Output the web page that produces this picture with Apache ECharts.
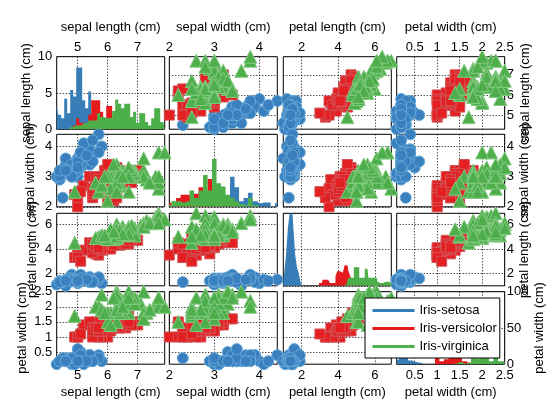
<!DOCTYPE html>
<html>
<head>
<meta charset="utf-8">
<script src="https://cdn.jsdelivr.net/npm/echarts@6/dist/echarts.min.js"></script>
<style>
    html, body { margin: 0; padding: 0; background: #fff; }
    #main { width: 560px; height: 420px; }
</style>
</head>
<body>
<div id="main"></div>
<script>
// iris measurements, one array per species and variable
var setosaSepalLength = [5.1,4.9,4.7,4.6,5.0,5.4,4.6,5.0,4.4,4.9,5.4,4.8,4.8,4.3,5.8,5.7,5.4,5.1,5.7,5.1,5.4,5.1,4.6,5.1,4.8,5.0,5.0,5.2,5.2,4.7,4.8,5.4,5.2,5.5,4.9,5.0,5.5,4.9,4.4,5.1,5.0,4.5,4.4,5.0,5.1,4.8,5.1,4.6,5.3,5.0];
var setosaSepalWidth  = [3.5,3.0,3.2,3.1,3.6,3.9,3.4,3.4,2.9,3.1,3.7,3.4,3.0,3.0,4.0,4.4,3.9,3.5,3.8,3.8,3.4,3.7,3.6,3.3,3.4,3.0,3.4,3.5,3.4,3.2,3.1,3.4,4.1,4.2,3.1,3.2,3.5,3.1,3.0,3.4,3.5,2.3,3.2,3.5,3.8,3.0,3.8,3.2,3.7,3.3];
var setosaPetalLength = [1.4,1.4,1.3,1.5,1.4,1.7,1.4,1.5,1.4,1.5,1.5,1.6,1.4,1.1,1.2,1.5,1.3,1.4,1.7,1.5,1.7,1.5,1.0,1.7,1.9,1.6,1.6,1.5,1.4,1.6,1.6,1.5,1.5,1.4,1.5,1.2,1.3,1.5,1.3,1.5,1.3,1.3,1.3,1.6,1.9,1.4,1.6,1.4,1.5,1.4];
var setosaPetalWidth  = [0.2,0.2,0.2,0.2,0.2,0.4,0.3,0.2,0.2,0.1,0.2,0.2,0.1,0.1,0.2,0.4,0.4,0.3,0.3,0.3,0.2,0.4,0.2,0.5,0.2,0.2,0.4,0.2,0.2,0.2,0.2,0.4,0.1,0.2,0.1,0.2,0.2,0.1,0.2,0.2,0.3,0.3,0.2,0.6,0.4,0.3,0.2,0.2,0.2,0.2];

var versicolorSepalLength = [7.0,6.4,6.9,5.5,6.5,5.7,6.3,4.9,6.6,5.2,5.0,5.9,6.0,6.1,5.6,6.7,5.6,5.8,6.2,5.6,5.9,6.1,6.3,6.1,6.4,6.6,6.8,6.7,6.0,5.7,5.5,5.5,5.8,6.0,5.4,6.0,6.7,6.3,5.6,5.5,5.5,6.1,5.8,5.0,5.6,5.7,5.7,6.2,5.1,5.7];
var versicolorSepalWidth  = [3.2,3.2,3.1,2.3,2.8,2.8,3.3,2.4,2.9,2.7,2.0,3.0,2.2,2.9,2.9,3.1,3.0,2.7,2.2,2.5,3.2,2.8,2.5,2.8,2.9,3.0,2.8,3.0,2.9,2.6,2.4,2.4,2.7,2.7,3.0,3.4,3.1,2.3,3.0,2.5,2.6,3.0,2.6,2.3,2.7,3.0,2.9,2.9,2.5,2.8];
var versicolorPetalLength = [4.7,4.5,4.9,4.0,4.6,4.5,4.7,3.3,4.6,3.9,3.5,4.2,4.0,4.7,3.6,4.4,4.5,4.1,4.5,3.9,4.8,4.0,4.9,4.7,4.3,4.4,4.8,5.0,4.5,3.5,3.8,3.7,3.9,5.1,4.5,4.5,4.7,4.4,4.1,4.0,4.4,4.6,4.0,3.3,4.2,4.2,4.2,4.3,3.0,4.1];
var versicolorPetalWidth  = [1.4,1.5,1.5,1.3,1.5,1.3,1.6,1.0,1.3,1.4,1.0,1.5,1.0,1.4,1.3,1.4,1.5,1.0,1.5,1.1,1.8,1.3,1.5,1.2,1.3,1.4,1.4,1.7,1.5,1.0,1.1,1.0,1.2,1.6,1.5,1.6,1.5,1.3,1.3,1.3,1.2,1.4,1.2,1.0,1.3,1.2,1.3,1.3,1.1,1.3];

var virginicaSepalLength = [6.3,5.8,7.1,6.3,6.5,7.6,4.9,7.3,6.7,7.2,6.5,6.4,6.8,5.7,5.8,6.4,6.5,7.7,7.7,6.0,6.9,5.6,7.7,6.3,6.7,7.2,6.2,6.1,6.4,7.2,7.4,7.9,6.4,6.3,6.1,7.7,6.3,6.4,6.0,6.9,6.7,6.9,5.8,6.8,6.7,6.7,6.3,6.5,6.2,5.9];
var virginicaSepalWidth  = [3.3,2.7,3.0,2.9,3.0,3.0,2.5,2.9,2.5,3.6,3.2,2.7,3.0,2.5,2.8,3.2,3.0,3.8,2.6,2.2,3.2,2.8,2.8,2.7,3.3,3.2,2.8,3.0,2.8,3.0,2.8,3.8,2.8,2.8,2.6,3.0,3.4,3.1,3.0,3.1,3.1,3.1,2.7,3.2,3.3,3.0,2.5,3.0,3.4,3.0];
var virginicaPetalLength = [6.0,5.1,5.9,5.6,5.8,6.6,4.5,6.3,5.8,6.1,5.1,5.3,5.5,5.0,5.1,5.3,5.5,6.7,6.9,5.0,5.7,4.9,6.7,4.9,5.7,6.0,4.8,4.9,5.6,5.8,6.1,6.4,5.6,5.1,5.6,6.1,5.6,5.5,4.8,5.4,5.6,5.1,5.1,5.9,5.7,5.2,5.0,5.2,5.4,5.1];
var virginicaPetalWidth  = [2.5,1.9,2.1,1.8,2.2,2.1,1.7,1.8,1.8,2.5,2.0,1.9,2.1,2.0,2.4,2.3,1.8,2.2,2.3,1.5,2.3,2.0,2.0,1.8,2.1,1.8,1.8,1.8,2.1,1.6,1.9,2.0,2.2,1.5,1.4,2.3,2.4,1.8,1.8,2.1,2.4,2.3,1.9,2.3,2.5,2.3,1.9,2.0,2.3,1.8];

// histogram bins (bin centres) and bar heights
var sepalLengthBins = [4.3,4.4,4.5,4.6,4.7,4.8,4.9,5.0,5.1,5.2,5.3,5.4,5.5,5.6,5.7,5.8,5.9,6.0,6.1,6.2,6.3,6.4,6.5,6.6,6.7,6.8,6.9,7.0,7.1,7.2,7.3,7.4,7.5,7.6,7.7,7.8,7.9];
var sepalLengthHistSetosa     = [3.2,2.0,1.5,4.2,2.2,5.4,4.5,8.5,8.5,4.0,2.9,5.2,1.5,0.3,0.8,0.3,0,0,0,0,0,0,0,0,0,0,0,0,0,0,0,0,0,0,0,0,0];
var sepalLengthHistVersicolor = [0,0,0,0,0,0,0.5,1.5,0.9,0.9,0.5,2.0,4.0,4.0,4.0,2.4,1.5,3.2,3.2,1.5,1.2,1.2,1.0,1.2,1.2,0.8,0.8,0.8,0,0,0,0,0,0,0,0,0];
var sepalLengthHistVirginica  = [0,0,0,0,0,0.3,0.5,0.5,0.5,0.8,0.9,1.2,1.2,1.2,2.2,1.7,1.6,1.5,1.6,2.5,4.1,3.5,2.9,3.5,3.5,1.7,2.4,0.9,2.2,2.2,1.0,0.5,1.5,2.9,2.9,1.0,1.0];

var sepalWidthBins = [2.0,2.1,2.2,2.3,2.4,2.5,2.6,2.7,2.8,2.9,3.0,3.1,3.2,3.3,3.4,3.5,3.6,3.7,3.8,3.9,4.0,4.1,4.2,4.3,4.4];
var sepalWidthHistSetosa     = [0,0,0,1.0,0,0,0,0,0,0.3,1.0,4.7,2.0,1.5,8.3,5.4,1.5,2.4,3.9,1.5,1.0,1.2,1.2,0.2,1.0];
var sepalWidthHistVersicolor = [1.2,0,2.4,3.3,3.3,3.6,3.6,5.4,3.5,7.7,3.5,1.5,1.0,0.8,0.4,0,0,0,0,0,0,0,0,0,0];
var sepalWidthHistVirginica  = [0.5,1.5,1.5,1.2,1.5,4.5,2.4,4.4,8.8,4.5,13.2,6.5,5.6,3.3,2.4,1.5,0.8,0.5,2.4,0.5,0,0,0,0,0];

var petalLengthBins = [1.0,1.1,1.2,1.3,1.4,1.5,1.6,1.7,1.8,1.9,2.0,2.1,2.2,2.3,2.4,2.5,2.6,2.7,2.8,2.9,3.0,3.1,3.2,3.3,3.4,3.5,3.6,3.7,3.8,3.9,4.0,4.1,4.2,4.3,4.4,4.5,4.6,4.7,4.8,4.9,5.0,5.1,5.2,5.3,5.4,5.5,5.6,5.7,5.8,5.9,6.0,6.1,6.2,6.3,6.4,6.5,6.6,6.7,6.8,6.9];
var petalLengthHistSetosa     = [0.5,3.6,8.6,16,20,20,16,8.6,5,3.3,0.8,0,0,0,0,0,0,0,0,0,0,0,0,0,0,0,0,0,0,0,0,0,0,0,0,0,0,0,0,0,0,0,0,0,0,0,0,0,0,0,0,0,0,0,0,0,0,0,0,0];
var petalLengthHistVersicolor = [0,0,0,0,0,0,0,0,0,0,0,0,0,0,0,0,0,0,0,0,0.8,0.8,1.7,1.7,1.7,1.7,0.8,0.8,0.8,2.7,4.0,4.0,3.6,3.6,5.7,5.7,4.2,2.7,1.7,0.8,0.5,0.3,0,0,0,0,0,0,0,0,0,0,0,0,0,0,0,0,0,0];
var petalLengthHistVirginica  = [0,0,0,0,0,0,0,0,0,0,0,0,0,0,0,0,0,0,0,0,0,0,0,0,0,0,0,0,0,0,0,0,0,0,0.5,0.8,2.2,2.2,2.2,5.1,5.1,5.1,2.2,2.2,2.2,4.7,4.7,2.2,2.2,2.2,2.2,2.2,1.1,0.8,0.8,0.8,1.1,1.1,0.8,0.8];

var petalWidthBins = [0.1,0.2,0.3,0.4,0.5,0.6,0.7,0.8,0.9,1.0,1.1,1.2,1.3,1.4,1.5,1.6,1.7,1.8,1.9,2.0,2.1,2.2,2.3,2.4,2.5];
var petalWidthHistSetosa     = [6,25,9,5,3,2,0,0,0,0,0,0,0,0,0,0,0,0,0,0,0,0,0,0,0];
var petalWidthHistVersicolor = [0,0,0,0,0,0,0,0,0,10,4,7,20,10,14,4,2,1,0,0,0,0,0,0,0];
var petalWidthHistVirginica  = [0,0,0,0,0,0,0,0,0,0,0,0,0,1,3,1,2,18,8,9,9,4,12,4,4];

// axis texts and tick labels
var speciesNames = ['Iris-setosa', 'Iris-versicolor', 'Iris-virginica'];
var varNames = ['sepal length (cm)', 'sepal width (cm)', 'petal length (cm)', 'petal width (cm)'];
var sepalLengthTicks = [5, 6, 7];
var sepalWidthTicks = [2, 3, 4];
var petalLengthTicks = [2, 4, 6];
var petalWidthTicks = [0.5, 1, 1.5, 2, 2.5];
var histTicks = [[0, 5, 10], [0, 10, 20], [0, 10, 20], [0, 50, 100]];

var species = [
    [setosaSepalLength, setosaSepalWidth, setosaPetalLength, setosaPetalWidth],
    [versicolorSepalLength, versicolorSepalWidth, versicolorPetalLength, versicolorPetalWidth],
    [virginicaSepalLength, virginicaSepalWidth, virginicaPetalLength, virginicaPetalWidth]
];
var bins = [sepalLengthBins, sepalWidthBins, petalLengthBins, petalWidthBins];
var hists = [
    [sepalLengthHistSetosa, sepalLengthHistVersicolor, sepalLengthHistVirginica],
    [sepalWidthHistSetosa, sepalWidthHistVersicolor, sepalWidthHistVirginica],
    [petalLengthHistSetosa, petalLengthHistVersicolor, petalLengthHistVirginica],
    [petalWidthHistSetosa, petalWidthHistVersicolor, petalWidthHistVirginica]
];
var ticks = [sepalLengthTicks, sepalWidthTicks, petalLengthTicks, petalWidthTicks];

var font = "'Liberation Sans', Arial, Helvetica, sans-serif";
var lineColors = ['#377eb8', '#e41a1c', '#4daf4a'];
var fillColors = ['#3a80bf', '#e31f22', '#4fae4c'];
var edgeColors = ['#67a9d8', '#d25457', '#84cb82'];
var symbols = ['circle', 'rect', 'triangle'];
var symbolSizes = [11, 10, 13];

var colLeft = [56.7, 169.3, 283.3, 396.7];
var rowTop = [56.7, 134.3, 213.3, 291.7];
var cellW = 108, cellH = 72.5;
var leftNameGap = [24, 19.5, 17.5, 28];
var rightNameGap = [14.5, 11, 12, 28];
var histMax = [10, 20, 20, 100];

var grids = [], xAxes = [], yAxes = [], series = [];
var dotted = { color: '#000', width: 1, type: [1, 2] };
var labelText = { fontSize: 13, color: '#000', fontFamily: font };

for (var r = 0; r < 4; r++) {
    for (var c = 0; c < 4; c++) {
        var idx = grids.length;
        grids.push({
            left: colLeft[c], top: rowTop[r], width: cellW, height: cellH,
            show: true, borderColor: '#000', borderWidth: 1, backgroundColor: 'transparent'
        });

        var xLab = (r === 0 || r === 3);
        xAxes.push({
            gridIndex: idx, type: 'value', min: 'dataMin', max: 'dataMax',
            position: r === 0 ? 'top' : 'bottom',
            axisLine: { show: false },
            axisTick: { show: false, customValues: ticks[c] },
            axisLabel: Object.assign({ show: xLab, customValues: ticks[c], margin: r === 0 ? 3 : 4.5 }, labelText),
            splitLine: { show: true, lineStyle: dotted },
            name: xLab ? varNames[c] : '', nameLocation: 'middle', nameGap: r === 0 ? 23 : 21.5,
            nameTextStyle: labelText
        });

        var diag = (r === c);
        var yTicks = diag ? histTicks[r] : ticks[r];
        var yLab = (c === 0 || c === 3);
        yAxes.push({
            gridIndex: idx, type: 'value',
            min: diag ? 0 : 'dataMin', max: diag ? histMax[r] : 'dataMax',
            position: c === 3 ? 'right' : 'left',
            axisLine: { show: false },
            axisTick: { show: false, customValues: yTicks },
            axisLabel: Object.assign({ show: yLab, customValues: yTicks, margin: c === 3 ? 2 : 4.5 }, labelText),
            splitLine: { show: true, lineStyle: dotted },
            name: yLab ? varNames[r] : '', nameLocation: 'middle', nameRotate: 90,
            nameGap: c === 3 ? rightNameGap[r] : leftNameGap[r],
            nameTextStyle: labelText
        });

        for (var s = 0; s < 3; s++) {
            if (diag) {
                series.push({
                    name: speciesNames[s], type: 'line', step: 'middle',
                    xAxisIndex: idx, yAxisIndex: idx,
                    symbol: 'none', lineStyle: { width: 0 },
                    itemStyle: { color: lineColors[s] },
                    areaStyle: { color: lineColors[s], opacity: 1 },
                    data: bins[c].map(function (b, i) { return [b, hists[c][s][i]]; })
                });
            } else {
                var xs = species[s][c], ys = species[s][r];
                series.push({
                    name: speciesNames[s], type: 'scatter', clip: false,
                    xAxisIndex: idx, yAxisIndex: idx,
                    symbol: symbols[s], symbolSize: symbolSizes[s],
                    itemStyle: { color: fillColors[s], borderColor: edgeColors[s], borderWidth: 1, opacity: 1 },
                    data: xs.map(function (v, i) { return [v, ys[i]]; })
                });
            }
        }
    }
}

var myChart = echarts.init(document.getElementById('main'));
myChart.setOption({
    animation: false,
    backgroundColor: '#fff',
    grid: grids,
    xAxis: xAxes,
    yAxis: yAxes,
    legend: {
        left: 365, top: 298,
        orient: 'vertical',
        icon: 'rect', itemWidth: 42, itemHeight: 3, itemGap: 2,
        padding: [4.5, 3, 3.5, 7.5],
        backgroundColor: '#fff', borderColor: '#000', borderWidth: 1, borderRadius: 0,
        itemStyle: { borderWidth: 0 },
        textStyle: { fontSize: 13, color: '#000', fontFamily: font, lineHeight: 16 },
        data: speciesNames.map(function (n, i) {
            return { name: n, itemStyle: { color: lineColors[i], borderWidth: 0 } };
        }),
        selectedMode: false,
        z: 20
    },
    series: series
});
</script>
</body>
</html>
